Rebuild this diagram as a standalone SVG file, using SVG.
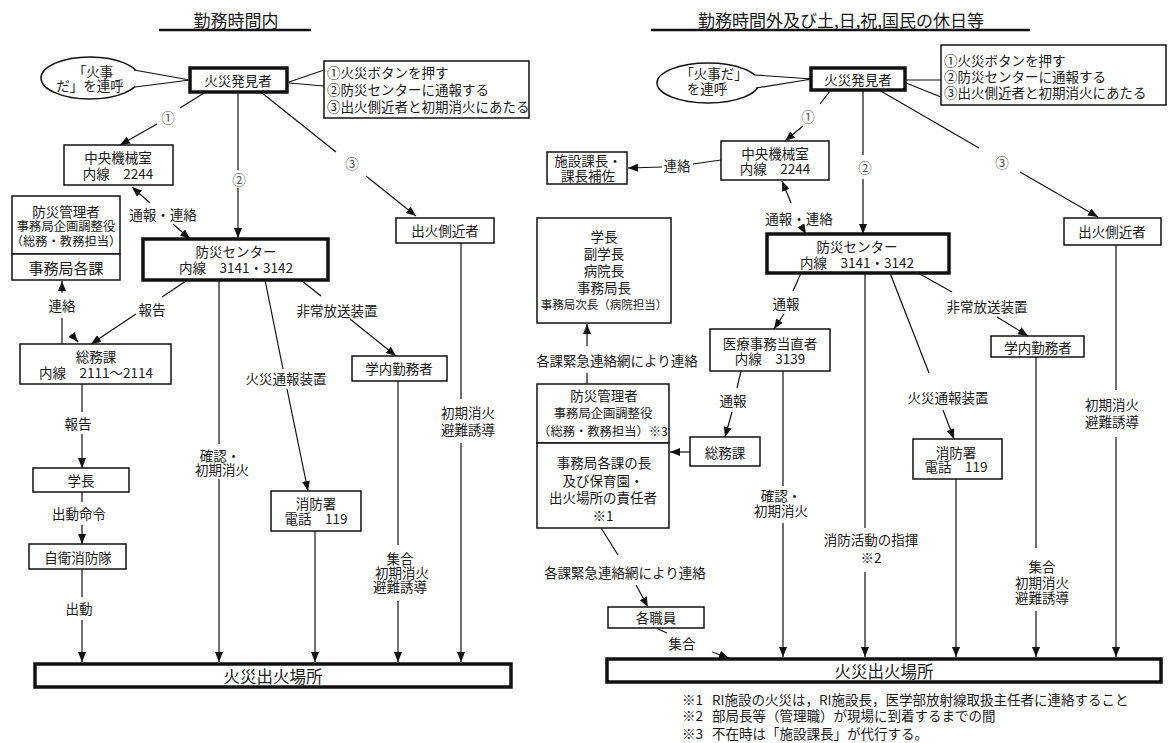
<svg xmlns="http://www.w3.org/2000/svg" width="1173" height="743" viewBox="0 0 1173 743">
<style>
text{font-family:"Noto Sans CJK JP","Noto Sans",sans-serif;font-size:13.5px;fill:#1a1a1a;text-anchor:middle;dominant-baseline:central}
.st{text-anchor:start}
.num{fill:#555}
.box{fill:#fff;stroke:#111;stroke-width:1.5}
.thick{fill:#fff;stroke:#111;stroke-width:3.5}
.ln{fill:none;stroke:#111;stroke-width:1.2}
.arr{marker-end:url(#ah)}
.dbl{marker-start:url(#ah);marker-end:url(#ah)}
.ttl{font-size:17px}
.big{font-size:16.5px}
.sm{font-size:12.3px}
.xs{font-size:11.5px}
</style>
<defs>
<marker id="ah" viewBox="0 0 10 8" refX="10" refY="4" markerWidth="10" markerHeight="8" markerUnits="userSpaceOnUse" orient="auto-start-reverse"><path d="M0,0 L10,4 L0,8 z" fill="#111"/></marker>
</defs>
<rect width="1173" height="743" fill="#fff"/>

<!-- LEFT -->
<g id="l-title"><text class="ttl" x="236" y="19">勤務時間内</text><line x1="159" y1="30" x2="311" y2="30" stroke="#111" stroke-width="2.5"/></g>
<g id="l-shout"><ellipse class="box" cx="90" cy="78" rx="49" ry="21"/><path d="M134,70 L190,80 L135,87" fill="#fff" stroke="#111" stroke-width="1.2"/><text><tspan x="93" y="71">「火事</tspan><tspan x="90" y="85">だ」を連呼</tspan></text></g>
<g id="l-finder"><rect class="thick" x="190" y="68" width="97" height="24"/><text x="238" y="80">火災発見者</text></g>
<g id="l-note"><path class="ln" d="M324,70 L289,82 M324,86 L289,83"/><rect class="box" x="324" y="61" width="205" height="57"/><text class="st"><tspan x="327" y="72">①火災ボタンを押す</tspan><tspan x="327" y="89">②防災センターに通報する</tspan><tspan x="327" y="106">③出火側近者と初期消火にあたる</tspan></text></g>
<g id="l-chuo"><rect class="box" x="64" y="145" width="109" height="40"/><text><tspan x="118" y="157">中央機械室</tspan><tspan x="118" y="173">内線　2244</tspan></text></g>
<g id="l-kanri"><rect class="box" x="12" y="196" width="108" height="58"/><text><tspan x="66" y="211">防災管理者</tspan><tspan class="sm" x="66" y="226">事務局企画調整役</tspan><tspan class="sm" x="66" y="241">（総務・教務担当）</tspan></text></g>
<g id="l-kakuka"><rect class="box" x="12" y="254" width="108" height="26"/><text x="66" y="267" style="font-size:15px">事務局各課</text></g>
<g id="l-center"><rect class="thick" x="143" y="239" width="185" height="41"/><text><tspan x="236" y="251">防災センター</tspan><tspan x="236" y="267">内線　3141・3142</tspan></text></g>
<g id="l-soumu"><rect class="box" x="20" y="344" width="151" height="40"/><text><tspan x="96" y="356">総務課</tspan><tspan x="96" y="372">内線　2111〜2114</tspan></text></g>
<g id="l-gakucho"><rect class="box" x="33" y="468" width="96" height="24"/><text x="81" y="480">学長</text></g>
<g id="l-jiei"><rect class="box" x="29" y="544" width="97" height="25"/><text x="78" y="557">自衛消防隊</text></g>
<g id="l-shobo"><rect class="box" x="271" y="491" width="90" height="40"/><text><tspan x="316" y="503">消防署</tspan><tspan x="316" y="518">電話　119</tspan></text></g>
<g id="l-gakunai"><rect class="box" x="352" y="356" width="95" height="25"/><text x="399" y="368">学内勤務者</text></g>
<g id="l-sokkin"><rect class="box" x="396" y="218" width="98" height="25"/><text x="445" y="230">出火側近者</text></g>
<g id="l-place"><rect class="thick" x="35" y="664" width="476" height="23"/><text class="big" x="273" y="676">火災出火場所</text></g>

<!-- RIGHT -->
<g id="r-title"><text class="ttl" x="841" y="19">勤務時間外及び土,日,祝,国民の休日等</text><line x1="651" y1="30" x2="1030" y2="30" stroke="#111" stroke-width="2.5"/></g>
<g id="r-shout"><ellipse class="box" cx="708" cy="83" rx="51" ry="20"/><path d="M755,75 L812,79 L756,88" fill="#fff" stroke="#111" stroke-width="1.2"/><text><tspan x="714" y="73">「火事だ」</tspan><tspan x="707" y="88">を連呼</tspan></text></g>
<g id="r-finder"><rect class="thick" x="811" y="68" width="94" height="22"/><text x="858" y="79">火災発見者</text></g>
<g id="r-note"><path class="ln" d="M941,80 L906,80 M941,97 L906,83"/><rect class="box" x="941" y="45" width="225" height="60"/><text class="st"><tspan x="944" y="60">①火災ボタンを押す</tspan><tspan x="944" y="76">②防災センターに通報する</tspan><tspan x="944" y="92">③出火側近者と初期消火にあたる</tspan></text></g>
<g id="r-chuo"><rect class="box" x="721" y="141" width="108" height="39"/><text><tspan x="775" y="153">中央機械室</tspan><tspan x="775" y="168">内線　2244</tspan></text></g>
<g id="r-shisetsu"><rect class="box" x="547" y="152" width="80" height="32"/><text><tspan x="588" y="160">施設課長・</tspan><tspan x="588" y="175">課長補佐</tspan></text></g>
<g id="r-center"><rect class="thick" x="767" y="234" width="182" height="39"/><text><tspan x="857" y="246">防災センター</tspan><tspan x="857" y="262">内線　3141・3142</tspan></text></g>
<g id="r-sokkin"><rect class="box" x="1064" y="218" width="97" height="27"/><text x="1112" y="231">出火側近者</text></g>
<g id="r-gakucho"><rect class="box" x="537" y="218" width="134" height="105"/><text><tspan x="604" y="236">学長</tspan><tspan x="604" y="253">副学長</tspan><tspan x="604" y="270">病院長</tspan><tspan x="604" y="287">事務局長</tspan><tspan class="xs" x="604" y="304">事務局次長（病院担当）</tspan></text></g>
<g id="r-kanri"><rect class="box" x="537" y="384" width="132" height="59"/><text><tspan x="604" y="395">防災管理者</tspan><tspan class="sm" x="603" y="413">事務局企画調整役</tspan><tspan class="sm" x="603" y="431">（総務・教務担当）※3</tspan></text></g>
<g id="r-kakuka"><rect class="box" x="537" y="443" width="132" height="85"/><text><tspan x="604" y="462">事務局各課の長</tspan><tspan x="603" y="480">及び保育園・</tspan><tspan x="603" y="497">出火場所の責任者</tspan><tspan x="603" y="515">※1</tspan></text></g>
<g id="r-iryo"><rect class="box" x="710" y="329" width="120" height="42"/><text><tspan x="770" y="343">医療事務当直者</tspan><tspan x="770" y="358">内線　3139</tspan></text></g>
<g id="r-soumu"><rect class="box" x="690" y="437" width="70" height="29"/><text x="725" y="452">総務課</text></g>
<g id="r-shobo"><rect class="box" x="913" y="439" width="89" height="40"/><text><tspan x="956" y="452">消防署</tspan><tspan x="956" y="466">電話　119</tspan></text></g>
<g id="r-gakunai"><rect class="box" x="991" y="336" width="93" height="21"/><text x="1038" y="347">学内勤務者</text></g>
<g id="r-shokuin"><rect class="box" x="608" y="607" width="96" height="21"/><text x="656" y="617">各職員</text></g>
<g id="r-place"><rect class="thick" x="607" y="659" width="554" height="23"/><text class="big" x="884" y="671">火災出火場所</text></g>
<g id="r-notes"><text class="st"><tspan x="682" y="699">※1</tspan><tspan x="712" y="699">RI施設の火災は，RI施設長，医学部放射線取扱主任者に連絡すること</tspan><tspan x="682" y="715">※2</tspan><tspan x="712" y="715">部局長等（管理職）が現場に到着するまでの間</tspan><tspan x="682" y="733">※3</tspan><tspan x="712" y="733">不在時は「施設課長」が代行する。</tspan></text></g>

<g id="connectors">
<!-- left -->
<path class="ln arr" d="M204,93 L180,108 M157,124 L120,145"/>
<text class="num" x="168" y="117">①</text>
<path class="ln arr" d="M238,93 L238,170 M238,188 L238,238"/>
<text class="num" x="239" y="179">②</text>
<path class="ln arr" d="M262,93 L336,152 M366,176 L416,216"/>
<text class="num" x="352" y="163">③</text>
<path class="ln dbl" d="M132,187 L150,203 M173,224 L190,239"/>
<text x="163" y="214">通報・連絡</text>
<path class="ln arr" d="M62,344 L62,318 M62,293 L62,281"/>
<text x="62" y="305">連絡</text>
<path class="ln arr" d="M186,281 L162,297 M136,314 L91,344"/>
<text x="152" y="309">報告</text>
<path class="ln arr" d="M72,335 L78,342"/>
<path class="ln arr" d="M82,384 L82,412 M82,434 L82,468"/>
<text x="78" y="423">報告</text>
<path class="ln arr" d="M82,492 L82,502 M82,525 L82,544"/>
<text x="79" y="513">出動命令</text>
<path class="ln arr" d="M82,569 L82,597 M82,620 L82,662"/>
<text x="79" y="608">出動</text>
<path class="ln arr" d="M219,280 L219,444 M219,479 L219,662"/>
<text><tspan x="220" y="455">確認・</tspan><tspan x="222" y="469">初期消火</tspan></text>
<path class="ln arr" d="M265,280 L283,369 M287,389 L308,491"/>
<text x="286" y="378">火災通報装置</text>
<path class="ln arr" d="M315,531 L315,662"/>
<path class="ln arr" d="M302,281 L321,296 M350,319 L396,356"/>
<text x="337" y="310">非常放送装置</text>
<path class="ln arr" d="M398,381 L398,545 M398,601 L398,662"/>
<text><tspan x="400" y="558">集合</tspan><tspan x="402" y="572">初期消火</tspan><tspan x="400" y="586">避難誘導</tspan></text>
<path class="ln arr" d="M461,243 L461,399 M461,443 L461,662"/>
<text><tspan x="468" y="412">初期消火</tspan><tspan x="468" y="429">避難誘導</tspan></text>
<!-- right -->
<path class="ln arr" d="M830,91 L820,104 M803,126 L785,141"/>
<text class="num" x="808" y="116">①</text>
<path class="ln arr" d="M863,90 L863,155 M863,179 L863,234"/>
<text class="num" x="865" y="167">②</text>
<path class="ln arr" d="M879,90 L979,148 M1020,172 L1098,217"/>
<text class="num" x="1002" y="162">③</text>
<path class="ln arr" d="M721,160 L693,164 M662,167 L628,168"/>
<text x="677" y="165">連絡</text>
<path class="ln dbl" d="M782,181 L791,203 M803,229 L806,234"/>
<text x="799" y="218">通報・連絡</text>
<path class="ln arr" d="M587,384 L587,373 M587,346 L587,324"/>
<text x="617" y="360">各課緊急連絡網により連絡</text>
<path class="ln arr" d="M801,273 L793,291 M784,314 L774,329"/>
<text x="786" y="303">通報</text>
<path class="ln arr" d="M741,371 L737,388 M732,412 L725,437"/>
<text x="733" y="400">通報</text>
<path class="ln arr" d="M690,452 L670,452"/>
<path class="ln arr" d="M783,371 L783,486 M783,523 L783,657"/>
<text><tspan x="781" y="495">確認・</tspan><tspan x="781" y="510">初期消火</tspan></text>
<path class="ln arr" d="M865,273 L865,528 M865,572 L865,657"/>
<text><tspan x="871" y="539">消防活動の指揮</tspan><tspan x="871" y="557">※2</tspan></text>
<path class="ln arr" d="M890,273 L929,373 M943,410 L954,439"/>
<text x="948" y="397">火災通報装置</text>
<path class="ln arr" d="M956,479 L956,657"/>
<path class="ln arr" d="M918,273 L952,292 M997,317 L1028,336"/>
<text x="987" y="306">非常放送装置</text>
<path class="ln arr" d="M1036,357 L1036,548 M1036,611 L1036,657"/>
<text><tspan x="1042" y="566">集合</tspan><tspan x="1042" y="582">初期消火</tspan><tspan x="1042" y="597">避難誘導</tspan></text>
<path class="ln arr" d="M1116,245 L1116,390 M1116,437 L1116,657"/>
<text><tspan x="1112" y="404">初期消火</tspan><tspan x="1112" y="421">避難誘導</tspan></text>
<path class="ln arr" d="M601,528 L618,555 M636,585 L648,607"/>
<text x="625" y="572">各課緊急連絡網により連絡</text>
<path class="ln arr" d="M658,629 L667,633 M712,652 L729,658"/>
<text x="682" y="643">集合</text>
</g>
</svg>
